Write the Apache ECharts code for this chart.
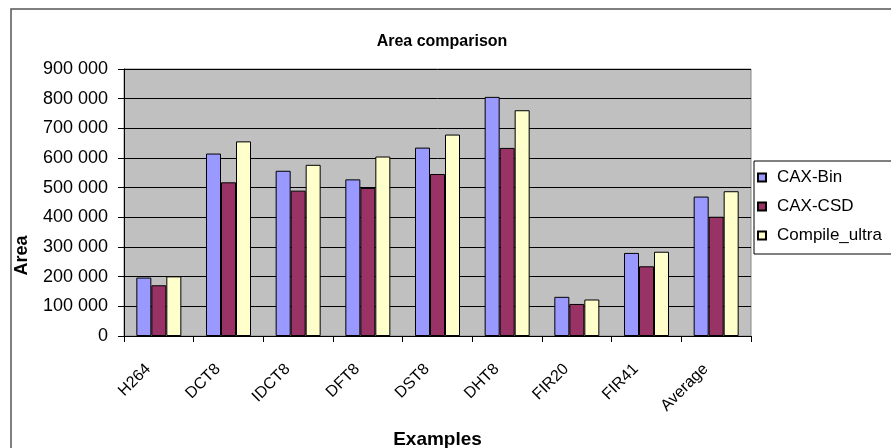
<!DOCTYPE html>
<html><head><meta charset="utf-8">
<script src="https://cdn.jsdelivr.net/npm/echarts@6/dist/echarts.min.js"></script>
<style>html,body{margin:0;padding:0;background:#fff}#c{width:891px;height:448px}</style>
</head><body><div id="c"></div>
<script>
const categories = ['H264','DCT8','IDCT8','DFT8','DST8','DHT8','FIR20','FIR41','Average'];
const cAxBin = [197000,615000,557000,528000,635000,806000,132000,280000,470000];
const cAxCsd = [171000,518000,490000,499000,546000,634000,108000,235000,402000];
const compileUltra = [201000,656000,577000,605000,679000,761000,123000,284000,488000];
const yTicks = [0,100000,200000,300000,400000,500000,600000,700000,800000,900000];
const seriesNames = ['CAX-Bin','CAX-CSD','Compile_ultra'];

const chart = echarts.init(document.getElementById('c'));
const font = 'Liberation Sans, Arial, sans-serif';
const colors = ['#9999FF','#993366','#FFFFCC'];
const mk = (name, data, i) => ({
  name, type:'bar', data, barWidth:15, barGap:'0%',
  itemStyle:{color:colors[i], borderColor:'#000', borderWidth:1}
});
chart.setOption({
  animation:false,
  textStyle:{fontFamily:font},
  title:{text:'Area comparison', left:437, top:29, textAlign:'center',
    textStyle:{fontFamily:font, fontSize:16, fontWeight:'bold', color:'#000'}},
  graphic:[{type:'rect', shape:{x:11,y:9,width:900,height:460}, style:{fill:'none', stroke:'#555', lineWidth:1.5}, z:-1}],
  legend:{orient:'vertical', left:754, top:161, itemWidth:8, itemHeight:8, itemGap:12,
    icon:'rect', padding:[8,20,10,3], borderColor:'#000', borderWidth:1, backgroundColor:'#fff',
    textStyle:{fontFamily:font, fontSize:17, color:'#000', padding:[0,0,0,6]},
    data:seriesNames},
  grid:{left:124, top:69, width:627, height:267, show:true, outerBoundsMode:'none', containLabel:false,
    backgroundColor:'#C0C0C0', borderColor:'#888', borderWidth:1},
  xAxis:{type:'category', data:categories, name:'Examples', nameLocation:'middle', nameGap:94,
    nameTextStyle:{fontFamily:font, fontSize:19, fontWeight:'bold', color:'#000'},
    axisLine:{lineStyle:{color:'#000'}}, axisTick:{show:true, length:6, lineStyle:{color:'#000'}},
    axisLabel:{rotate:45, fontSize:16, color:'#000', fontFamily:font, margin:20, padding:[0,15,0,0]}},
  yAxis:{type:'value', min:0, max:900000, interval:100000, name:'Area', nameLocation:'middle', nameGap:93,
    nameTextStyle:{fontFamily:font, fontSize:18, fontWeight:'bold', color:'#000', padding:[0,106,0,0]},
    axisLine:{show:true, lineStyle:{color:'#000'}}, axisTick:{show:true, length:6, lineStyle:{color:'#000'}},
    splitLine:{lineStyle:{color:'#000', width:1}},
    axisLabel:{fontSize:18, color:'#000', fontFamily:font, margin:16,
      formatter:v => yTicks.includes(v) ? String(v).replace(/(\d)(?=(\d{3})+$)/g,'$1 ') : ''}},
  series:[mk(seriesNames[0], cAxBin, 0), mk(seriesNames[1], cAxCsd, 1), mk(seriesNames[2], compileUltra, 2)]
});
</script></body></html>
